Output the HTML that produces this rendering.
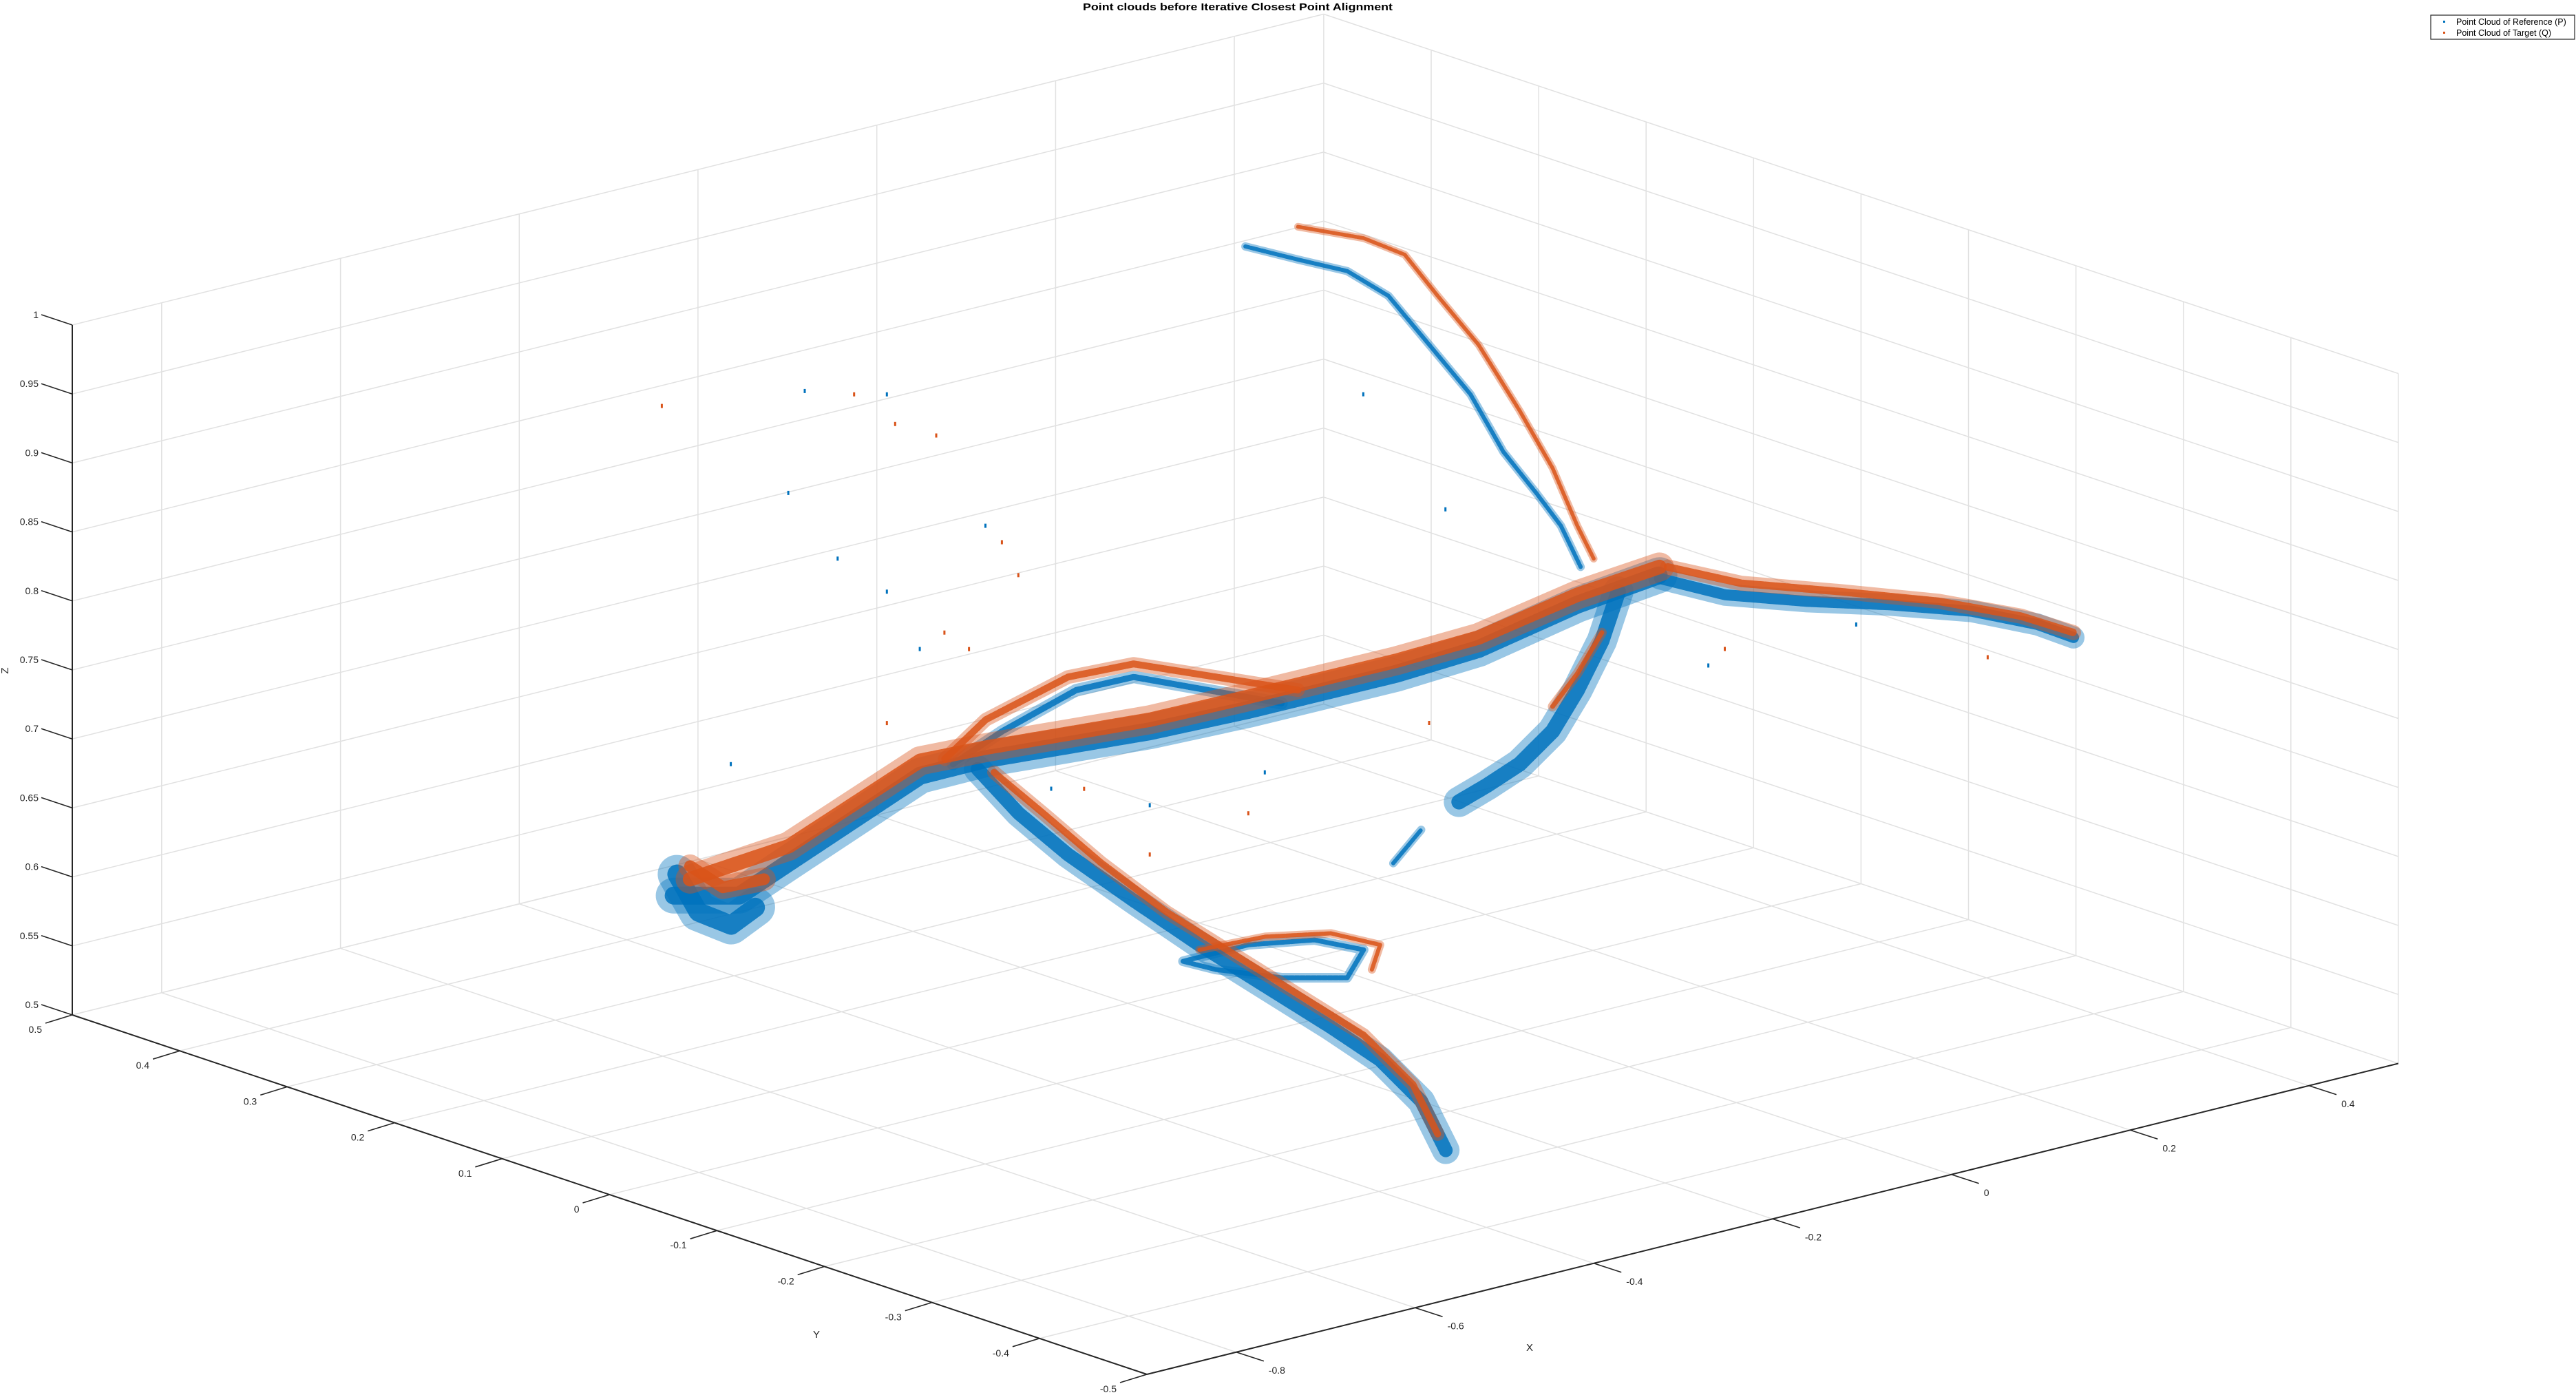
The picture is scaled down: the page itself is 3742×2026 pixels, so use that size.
<!DOCTYPE html>
<html><head><meta charset="utf-8"><style>
html,body{margin:0;padding:0;background:#fff;}
svg{display:block;font-family:"Liberation Sans","DejaVu Sans",sans-serif;}
</style></head><body>
<svg id="chart" width="3742" height="2026" viewBox="0 0 3742 2026" xmlns="http://www.w3.org/2000/svg">
<rect x="0" y="0" width="3742" height="2026" fill="#fff"/>
<g id="grid"></g>
<g id="axes"></g>
<g id="series-p"></g>
<g id="series-q"></g>
<text x="1798" y="15" text-anchor="middle" font-size="15" font-weight="bold" fill="#000" textLength="450" lengthAdjust="spacingAndGlyphs">Point clouds before Iterative Closest Point Alignment</text>
<text x="12" y="974" font-size="15" fill="#262626" text-anchor="middle" transform="rotate(-90 12 974)">Z</text>
<text x="1186" y="1943" font-size="15" fill="#262626" text-anchor="middle">Y</text>
<text x="2222" y="1962" font-size="15" fill="#262626" text-anchor="middle">X</text>
<g>
<rect x="3531" y="22" width="209" height="35" fill="#fff" stroke="#262626" stroke-width="1.2"/>
<rect x="3549" y="30" width="3" height="3" fill="#0072BD"/>
<text x="3568" y="36" font-size="12.5" fill="#000">Point Cloud of Reference (P)</text>
<rect x="3549" y="46" width="3" height="3" fill="#D95319"/>
<text x="3568" y="52" font-size="12.5" fill="#000">Point Cloud of Target (Q)</text>
</g>
</svg>
<script>
// axis limits & ticks
const xTicks = [-0.8,-0.6,-0.4,-0.2,0,0.2,0.4];
const yTicks = [-0.5,-0.4,-0.3,-0.2,-0.1,0,0.1,0.2,0.3,0.4,0.5];
const zTicks = [0.5,0.55,0.6,0.65,0.7,0.75,0.8,0.85,0.9,0.95,1];
const xTickLabels = ["-0.8","-0.6","-0.4","-0.2","0","0.2","0.4"];
const yTickLabels = ["-0.5","-0.4","-0.3","-0.2","-0.1","0","0.1","0.2","0.3","0.4","0.5"];
const zTickLabels = ["0.5","0.55","0.6","0.65","0.7","0.75","0.8","0.85","0.9","0.95","1"];
const xLim = [-0.9,0.5], yLim = [-0.5,0.5], zLim = [0.5,1];

// Reference cloud P (blue) branches: x, y, z
const pTrunkX = [-0.8283,-0.7548,-0.6997,-0.5526,-0.4791,-0.2953,-0.185,-0.0196,0.0723,0.1826,0.2745];
const pTrunkY = [0,0,0,0,0,0,0,0,0,0,0];
const pTrunkZ = [0.7052,0.6933,0.7083,0.7477,0.7479,0.7385,0.7363,0.7358,0.739,0.7533,0.76];
const pBlobX = [-0.8246,-0.8007,-0.764,-0.7364];
const pBlobY = [0,0,0,0];
const pBlobZ = [0.7201,0.6888,0.6734,0.6821];
const pLoopX = [-0.5159,-0.4607,-0.378,-0.3137,-0.231,-0.1483];
const pLoopY = [0,0,0,0,0,0];
const pLoopZ = [0.7502,0.7651,0.7816,0.7808,0.758,0.7351];
const pLowerX = [-0.4883,-0.4423,-0.3872,-0.3137,-0.2402,-0.1666,-0.0931,-0.038,0.008,0.0355];
const pLowerY = [0,0,0,0,0,0,0,0,0,0];
const pLowerZ = [0.7422,0.7027,0.664,0.6188,0.5748,0.5332,0.4916,0.4589,0.4217,0.3816];
const pRingX = [-0.2585,-0.185,-0.1115,-0.0564,-0.0748,-0.1483,-0.2218,-0.2585];
const pRingY = [0,0,0,0,0,0,0,0];
const pRingZ = [0.5659,0.566,0.5577,0.5417,0.5244,0.5362,0.554,0.5659];
const pRightX = [0.2745,0.348,0.4399,0.5318,0.6237,0.6972,0.7377];
const pRightY = [0,0,0,0,0,0,0];
const pRightZ = [0.7576,0.7339,0.7143,0.6971,0.6776,0.6562,0.6402];
const pArmX = [-0.1887,-0.1299,-0.0748,-0.0288,0.0172,0.0631,0.0999,0.1366,0.1642,0.1863];
const pArmY = [0,0,0,0,0,0,0,0,0,0];
const pArmZ = [1.0727,1.0537,1.0365,1.0112,0.9681,0.925,0.8774,0.8417,0.8135,0.7801];
const pHangX = [0.2285,0.2101,0.1826,0.155,0.1182,0.0815,0.0502];
const pHangY = [0,0,0,0,0,0,0];
const pHangZ = [0.7554,0.7227,0.6914,0.6661,0.6482,0.6386,0.6317];
const pBitX = [-0.0233,0.008];
const pBitY = [0,0];
const pBitZ = [0.5991,0.6183];
const pScatterX = [-0.6813,-0.5894,-0.4791,-0.5526,-0.764,-0.6997,-0.6445,-0.4056,-0.2953,-0.0564,0.0355,-0.1666,0.3296,0.495,-0.5894];
const pScatterY = [0,0,0,0,0,0,0,0,0,0,0,0,0,0,0];
const pScatterZ = [1.0472,1.03,0.917,0.8395,0.7901,0.9763,0.9198,0.7146,0.6849,0.9443,0.8461,0.688,0.6856,0.6887,0.887];

// Target cloud Q (orange) branches
const qTrunkX = [-0.81,-0.6997,-0.5526,-0.4791,-0.2953,-0.185,-0.0196,0.0723,0.1826,0.2745];
const qTrunkY = [0,0,0,0,0,0,0,0,0,0];
const qTrunkZ = [0.7141,0.7202,0.7585,0.7562,0.7469,0.7458,0.7453,0.7473,0.7605,0.7659];
const qBlobX = [-0.81,-0.7732,-0.7272];
const qBlobY = [0,0,0];
const qBlobZ = [0.7236,0.7023,0.7008];
const qLoopX = [-0.525,-0.4791,-0.3872,-0.3137,-0.2218,-0.1299];
const qLoopY = [0,0,0,0,0,0];
const qLoopZ = [0.7553,0.7765,0.7926,0.7903,0.766,0.7417];
const qLowerX = [-0.4699,-0.4148,-0.3504,-0.2769,-0.2034,-0.1299,-0.0564,-0.0012,0.0264];
const qLowerY = [0,0,0,0,0,0,0,0,0];
const qLowerZ = [0.7368,0.6982,0.6521,0.6045,0.5629,0.5213,0.4798,0.4351,0.3949];
const qRingX = [-0.2402,-0.1666,-0.0931,-0.038,-0.0472];
const qRingY = [0,0,0,0,0];
const qRingZ = [0.5712,0.5689,0.5595,0.5423,0.5259];
const qRightX = [0.2837,0.3664,0.4767,0.5869,0.6788,0.7377];
const qRightY = [0,0,0,0,0,0];
const qRightZ = [0.7644,0.7392,0.7155,0.6907,0.6652,0.6438];
const qArmX = [-0.1299,-0.0564,-0.0104,0.0264,0.0723,0.1182,0.155,0.1826,0.201];
const qArmY = [0,0,0,0,0,0,0,0,0];
const qArmZ = [1.0775,1.0574,1.0381,1.0023,0.9593,0.9042,0.8567,0.8105,0.7837];
const qHangX = [0.2101,0.1826,0.155];
const qHangY = [0,0,0];
const qHangZ = [0.7287,0.7033,0.684];
const qScatterX = [-0.8412,-0.6261,-0.5802,-0.5342,-0.4607,-0.4423,-0.525,-0.4975,-0.5894,-0.3688,-0.2953,-0.185,0.0172,0.348,0.6421];
const qScatterY = [0,0,0,0,0,0,0,0,0,0,0,0,0,0,0];
const qScatterZ = [1.0621,1.0359,1.007,0.9913,0.9021,0.8753,0.847,0.8306,0.7918,0.7086,0.6492,0.6613,0.6942,0.6946,0.6413];

// projection (axis functions)
const O = [105,1474];
const XV = [1298.5,-322.5];
const YV = [-1561,-522];
const ZV = [0,-2004];
function proj(x,y,z){
  const u=x-xLim[0], v=y-yLim[1], w=z-zLim[0];
  return [O[0]+u*XV[0]+v*YV[0]+w*ZV[0], O[1]+u*XV[1]+v*YV[1]+w*ZV[1]];
}
const NS="http://www.w3.org/2000/svg";
function mk(tag,attrs,parent){const e=document.createElementNS(NS,tag);for(const k in attrs)e.setAttribute(k,attrs[k]);parent.appendChild(e);return e;}
function line3(a,b,parent,stroke,sw){
  const p=proj(...a), q=proj(...b);
  return mk('line',{x1:p[0].toFixed(1),y1:p[1].toFixed(1),x2:q[0].toFixed(1),y2:q[1].toFixed(1),stroke:stroke,'stroke-width':sw},parent);
}
const grid=document.getElementById('grid');
const GC="#e1e1e1";
xTicks.forEach(t=>{const l=line3([t,yLim[0],zLim[0]],[t,yLim[1],zLim[0]],grid,GC,1.5);

});
yTicks.forEach(t=>{const l=line3([xLim[0],t,zLim[0]],[xLim[1],t,zLim[0]],grid,GC,1.5);

});
xTicks.forEach(t=>{const l=line3([t,yLim[1],zLim[0]],[t,yLim[1],zLim[1]],grid,GC,1.5);

});
zTicks.forEach(t=>{const l=line3([xLim[0],yLim[1],t],[xLim[1],yLim[1],t],grid,GC,1.5);

});
yTicks.forEach(t=>{const l=line3([xLim[1],t,zLim[0]],[xLim[1],t,zLim[1]],grid,GC,1.5);

});
zTicks.forEach(t=>{const l=line3([xLim[1],yLim[0],t],[xLim[1],yLim[1],t],grid,GC,1.5);

});

const axes=document.getElementById('axes');
const AC="#262626";
let a;
a=line3([xLim[0],yLim[1],zLim[0]],[xLim[0],yLim[1],zLim[1]],axes,AC,2);


a=line3([xLim[0],yLim[1],zLim[0]],[xLim[0],yLim[0],zLim[0]],axes,AC,2);


a=line3([xLim[0],yLim[0],zLim[0]],[xLim[1],yLim[0],zLim[0]],axes,AC,2);


zTicks.forEach((t,i)=>{
  const p=proj(xLim[0],yLim[1],t);
  const tk=mk('line',{x1:p[0],y1:p[1],x2:p[0]-45,y2:p[1]-15,stroke:AC,'stroke-width':1.6},axes);
  
  
  const tx=mk('text',{x:56,y:(p[1]-10).toFixed(1),'font-size':14,fill:AC,'text-anchor':'end'},axes);
  tx.textContent=zTickLabels[i];
  
  
});
yTicks.forEach((t,i)=>{
  const p=proj(xLim[0],t,zLim[0]);
  const tk=mk('line',{x1:p[0],y1:p[1],x2:p[0]-39,y2:p[1]+12,stroke:AC,'stroke-width':1.6},axes);
  
  
  const tx=mk('text',{x:(p[0]-44).toFixed(1),y:(p[1]+26).toFixed(1),'font-size':14,fill:AC,'text-anchor':'end'},axes);
  tx.textContent=yTickLabels[i];
  
  
});
xTicks.forEach((t,i)=>{
  const p=proj(t,yLim[0],zLim[0]);
  const tk=mk('line',{x1:p[0],y1:p[1],x2:p[0]+40,y2:p[1]+13,stroke:AC,'stroke-width':1.6},axes);
  
  
  const tx=mk('text',{x:(p[0]+47).toFixed(1),y:(p[1]+31).toFixed(1),'font-size':14,fill:AC,'text-anchor':'start'},axes);
  tx.textContent=xTickLabels[i];
  
  
});

function branch(X,Y,Z,parent,color,w,name){
  const pts=X.map((x,i)=>proj(x,Y[i],Z[i]).map(v=>v.toFixed(1)).join(',')).join(' ');
  const soft=mk('polyline',{points:pts,fill:'none',stroke:color,'stroke-width':w,'stroke-opacity':0.4,'stroke-linecap':'round','stroke-linejoin':'round'},parent);
  
  
  const core=mk('polyline',{points:pts,fill:'none',stroke:color,'stroke-width':Math.max(3,w*0.5),'stroke-opacity':0.85,'stroke-linecap':'round','stroke-linejoin':'round','stroke-dasharray':'6 2'},parent);
  
  
}
function scatter(X,Y,Z,parent,color,name){
  X.forEach((x,i)=>{const p=proj(x,Y[i],Z[i]);
    const r=mk('rect',{x:(p[0]-2).toFixed(1),y:(p[1]-3).toFixed(1),width:3,height:6,fill:color},parent);
    
    });
}
const gp=document.getElementById('series-p'), gq=document.getElementById('series-q');
const BLUE="#0072BD", ORANGE="#D95319";
branch(pBlobX,pBlobY,pBlobZ,gp,BLUE,56,'p-left-blob');
branch(pTrunkX,pTrunkY,pTrunkZ,gp,BLUE,52,'p-trunk');
branch(pLoopX,pLoopY,pLoopZ,gp,BLUE,18,'p-upper-loop');
branch(pLowerX,pLowerY,pLowerZ,gp,BLUE,40,'p-lower-branch');
branch(pRingX,pRingY,pRingZ,gp,BLUE,14,'p-small-loop');
branch(pRightX,pRightY,pRightZ,gp,BLUE,32,'p-right-branch');
branch(pArmX,pArmY,pArmZ,gp,BLUE,12,'p-upper-arm');
branch(pHangX,pHangY,pHangZ,gp,BLUE,44,'p-hanging-branch');
branch(pBitX,pBitY,pBitZ,gp,BLUE,12,'p-fragment');
scatter(pScatterX,pScatterY,pScatterZ,gp,BLUE,'p-scatter-point');
branch(qBlobX,qBlobY,qBlobZ,gq,ORANGE,34,'q-left-blob');
branch(qTrunkX,qTrunkY,qTrunkZ,gq,ORANGE,42,'q-trunk');
branch(qLoopX,qLoopY,qLoopZ,gq,ORANGE,20,'q-upper-loop');
branch(qLowerX,qLowerY,qLowerZ,gq,ORANGE,20,'q-lower-branch');
branch(qRingX,qRingY,qRingZ,gq,ORANGE,12,'q-small-loop');
branch(qRightX,qRightY,qRightZ,gq,ORANGE,22,'q-right-branch');
branch(qArmX,qArmY,qArmZ,gq,ORANGE,11,'q-upper-arm');
branch(qHangX,qHangY,qHangZ,gq,ORANGE,14,'q-hanging-branch');
scatter(qScatterX,qScatterY,qScatterZ,gq,ORANGE,'q-scatter-point');
</script>
</body></html>
